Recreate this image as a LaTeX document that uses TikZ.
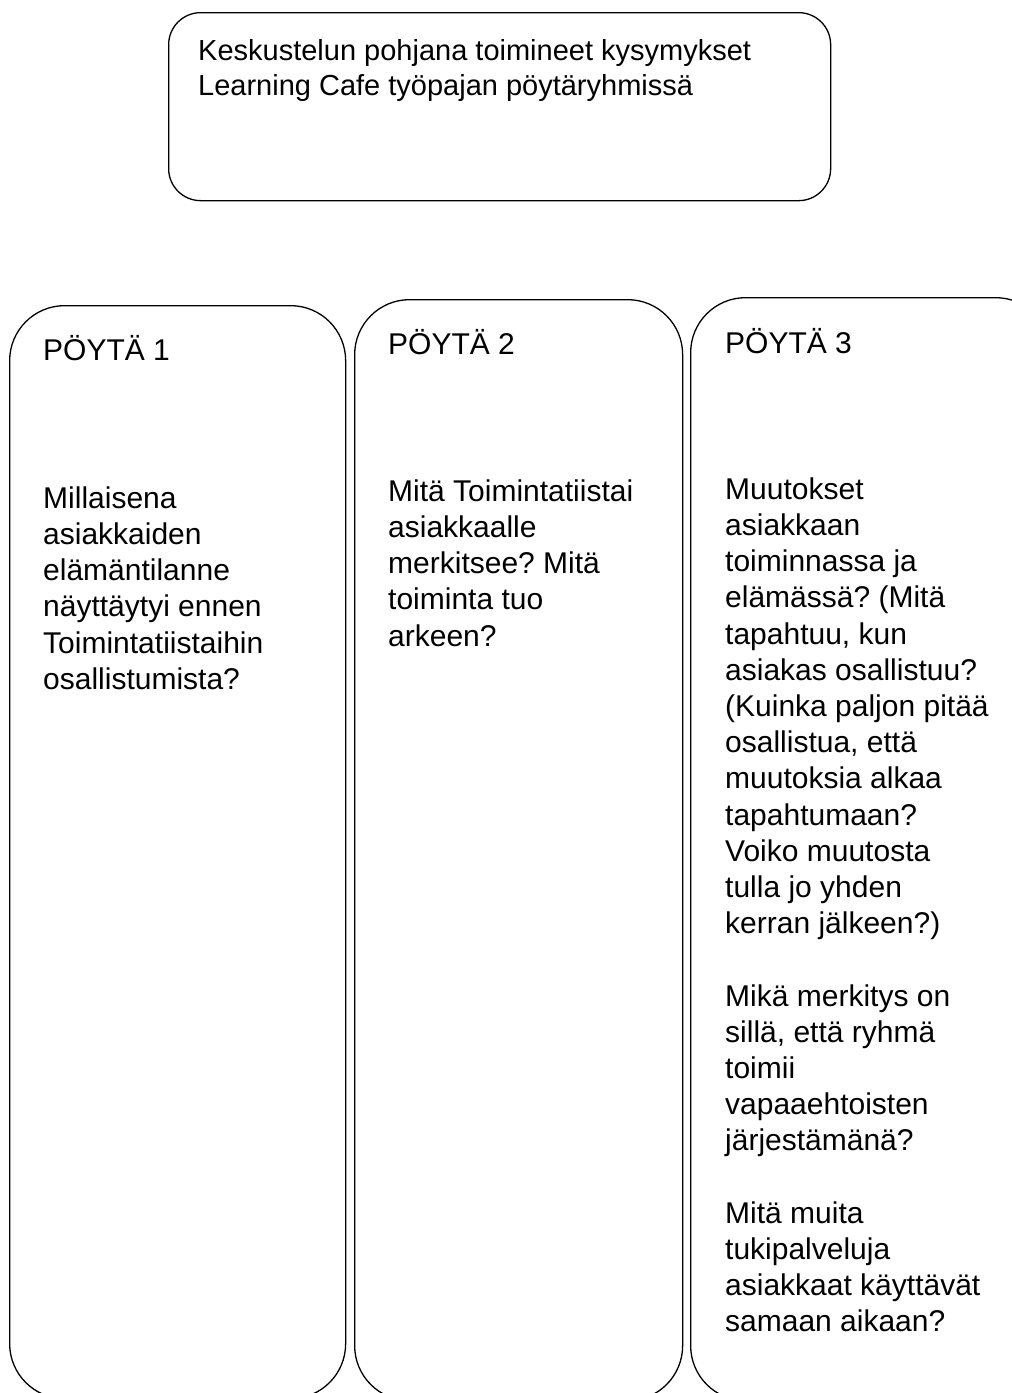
\documentclass[tikz,border=0pt]{standalone}
\usepackage{fontspec}
\setmainfont{Liberation Sans}
\frenchspacing
\begin{document}
\begin{tikzpicture}[x=1pt,y=-1pt,
  card/.style={draw=black, line width=1.3pt, rounded corners=#1, inner sep=0pt, anchor=north west},
  txt/.style={anchor=north west, inner sep=0pt, align=left, font=\fontsize{30}{36.2}\selectfont},
  ttl/.style={anchor=base west, inner sep=0pt, font=\fontsize{30}{36.2}\selectfont}]
\useasboundingbox (0,0) rectangle (1012,1393);
\begin{scope}
\clip (0,0) rectangle (1012,1393);
% header box
\node[card=32pt, minimum width=662pt, minimum height=188pt] (head) at (168,12) {};
\node[txt, font=\fontsize{29}{35.5}\selectfont] (headtext) at (198,32) {\rule{0pt}{28pt}Keskustelun pohjana toimineet kysymykset\\Learning Cafe työpajan pöytäryhmissä};
% table boxes
\node[card=55pt, minimum width=336pt, minimum height=1093pt] (t1) at (9,305) {};
\node[card=55pt, minimum width=328pt, minimum height=1101pt] (t2) at (354,299) {};
\node[card=55pt, minimum width=360pt, minimum height=1103pt] (t3) at (690,297) {};
% titles
\node[ttl] (h1) at (43,360) {PÖYTÄ 1};
\node[ttl] (h2) at (388,354) {PÖYTÄ 2};
\node[ttl] (h3) at (725,353) {PÖYTÄ 3};
% questions
\node[txt] (q1) at (43,480) {\rule{0pt}{28pt}Millaisena\\asiakkaiden\\elämäntilanne\\näyttäytyi ennen\\Toimintatiistaihin\\osallistumista?};
\node[txt] (q2) at (388,473) {\rule{0pt}{28pt}Mitä Toimintatiistai\\asiakkaalle\\merkitsee? Mitä\\toiminta tuo\\arkeen?};
\node[txt] (q3) at (725,471) {\rule{0pt}{28pt}Muutokset\\asiakkaan\\toiminnassa ja\\elämässä? (Mitä\\tapahtuu, kun\\asiakas osallistuu?\\(Kuinka paljon pitää\\osallistua, että\\muutoksia alkaa\\tapahtumaan?\\Voiko muutosta\\tulla jo yhden\\kerran jälkeen?)\\[36.2pt]Mikä merkitys on\\sillä, että ryhmä\\toimii\\vapaaehtoisten\\järjestämänä?\\[36.2pt]Mitä muita\\tukipalveluja\\asiakkaat käyttävät\\samaan aikaan?};
\end{scope}
\end{tikzpicture}
\end{document}
